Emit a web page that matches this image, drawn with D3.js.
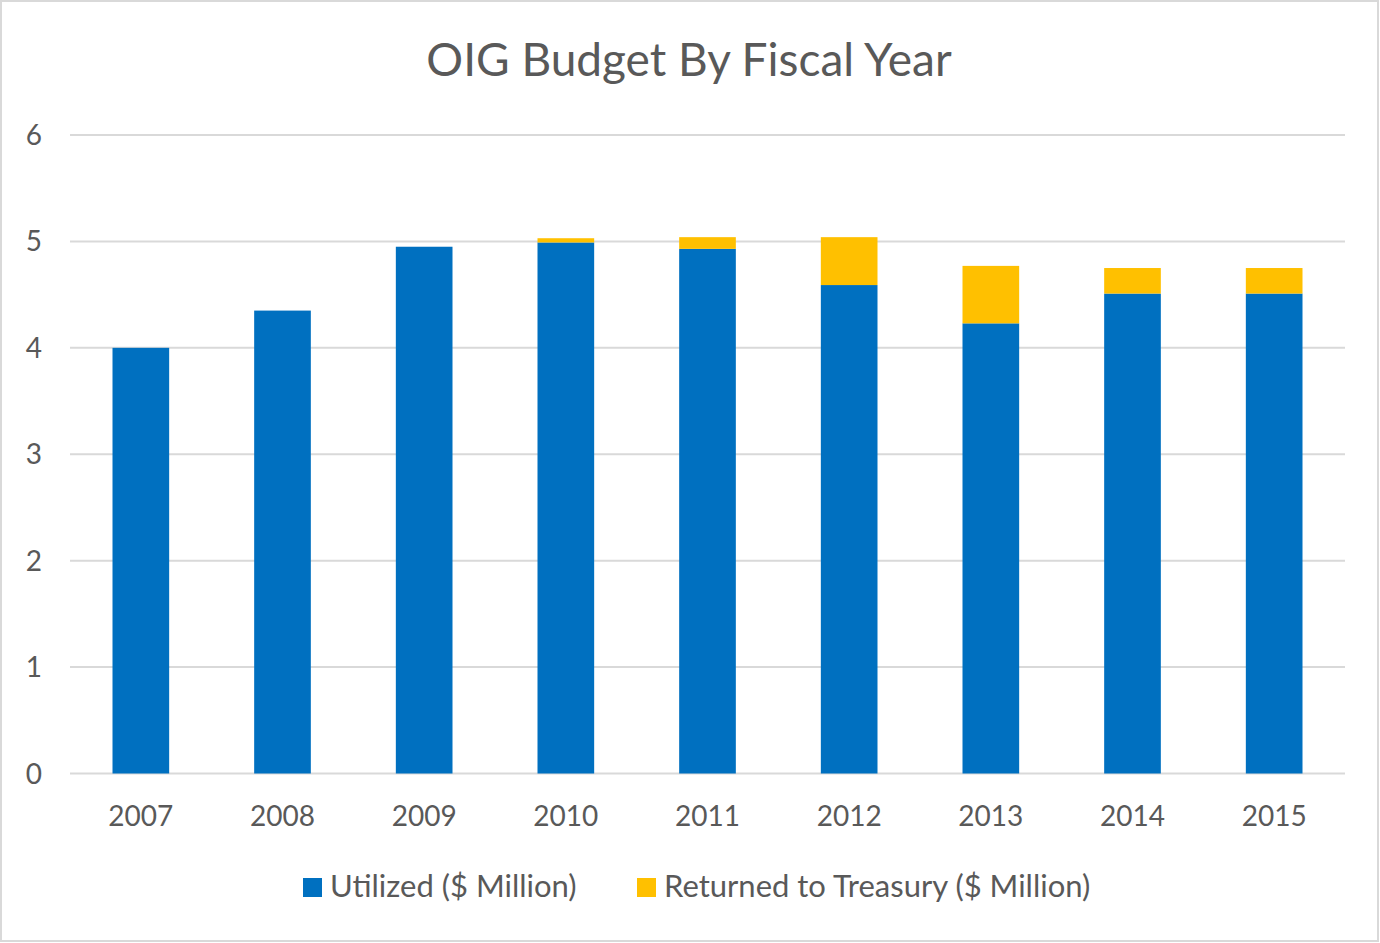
<!DOCTYPE html>
<html>
<head>
<meta charset="utf-8">
<script src="https://cdn.jsdelivr.net/npm/d3@7/dist/d3.min.js"></script>
<style>
  html, body { margin: 0; padding: 0; background: #fff; }
  svg { display: block; }
  text { font-family: Lato, "Open Sans", sans-serif; fill: #595959; }
</style>
</head>
<body>
<svg id="chart" width="1380" height="943"></svg>
<script>
// Fiscal years and budget split, in $ million
const years = ["2007", "2008", "2009", "2010", "2011", "2012", "2013", "2014", "2015"];
const utilized = [4.00, 4.35, 4.95, 4.99, 4.93, 4.59, 4.23, 4.51, 4.51];
const returnedToTreasury = [0, 0, 0, 0.04, 0.11, 0.45, 0.54, 0.24, 0.24];
const seriesNames = ["Utilized ($ Million)", "Returned to Treasury ($ Million)"];
const seriesColors = ["#0070C0", "#FFC000"];
const yTicks = [0, 1, 2, 3, 4, 5, 6];

const svg = d3.select("#chart");
const W = 1380, H = 943;

// outer chart frame
svg.append("rect")
  .attr("x", 1).attr("y", 1).attr("width", W - 3).attr("height", H - 3)
  .attr("fill", "#fff").attr("stroke", "#d9d9d9").attr("stroke-width", 2);

const plot = { left: 70, right: 1345, top: 135, bottom: 773.5 };

const x = d3.scaleBand()
  .domain(years)
  .range([plot.left, plot.right])
  .paddingInner(0.6)
  .paddingOuter(0.3);

const y = d3.scaleLinear().domain([0, 6]).range([plot.bottom, plot.top]);

// horizontal gridlines
svg.append("g")
  .selectAll("line")
  .data(yTicks)
  .join("line")
  .attr("x1", plot.left).attr("x2", plot.right)
  .attr("y1", d => y(d)).attr("y2", d => y(d))
  .attr("stroke", "#d9d9d9").attr("stroke-width", 2);

// y-axis labels
svg.append("g")
  .selectAll("text")
  .data(yTicks)
  .join("text")
  .attr("x", 42)
  .attr("y", d => y(d) + 10)
  .attr("text-anchor", "end")
  .attr("font-size", 28)
  .text(d => d);

// stacked bars
const rows = years.map((yr, i) => ({ year: yr, u: utilized[i], r: returnedToTreasury[i] }));
const stack = d3.stack().keys(["u", "r"]);
const layers = stack(rows);

svg.append("g")
  .selectAll("g")
  .data(layers)
  .join("g")
  .attr("fill", (d, i) => seriesColors[i])
  .selectAll("rect")
  .data(d => d)
  .join("rect")
  .attr("x", d => x(d.data.year))
  .attr("width", x.bandwidth())
  .attr("y", d => y(d[1]))
  .attr("height", d => Math.max(0, y(d[0]) - y(d[1])));

// x-axis labels
const xAxis = d3.axisBottom(x).tickSize(0).tickPadding(0);
const xg = svg.append("g")
  .attr("transform", `translate(0, ${plot.bottom})`)
  .call(xAxis);
xg.select(".domain").remove();
xg.selectAll("text")
  .attr("y", 52)
  .attr("dy", null)
  .attr("font-size", 28)
  .attr("font-family", "Lato, sans-serif")
  .attr("fill", "#595959");

// title
svg.append("text")
  .attr("x", 689)
  .attr("y", 76)
  .attr("text-anchor", "middle")
  .attr("font-size", 46)
  .text("OIG Budget By Fiscal Year");

// legend
const legend = svg.append("g");
const legendX = [303, 637];
seriesNames.forEach((name, i) => {
  const g = legend.append("g").attr("transform", `translate(${legendX[i]}, 878)`);
  g.append("rect").attr("width", 19).attr("height", 19).attr("fill", seriesColors[i]);
  g.append("text")
    .attr("x", 27)
    .attr("y", 19)
    .attr("font-size", 31)
    .text(name);
});
</script>
</body>
</html>
